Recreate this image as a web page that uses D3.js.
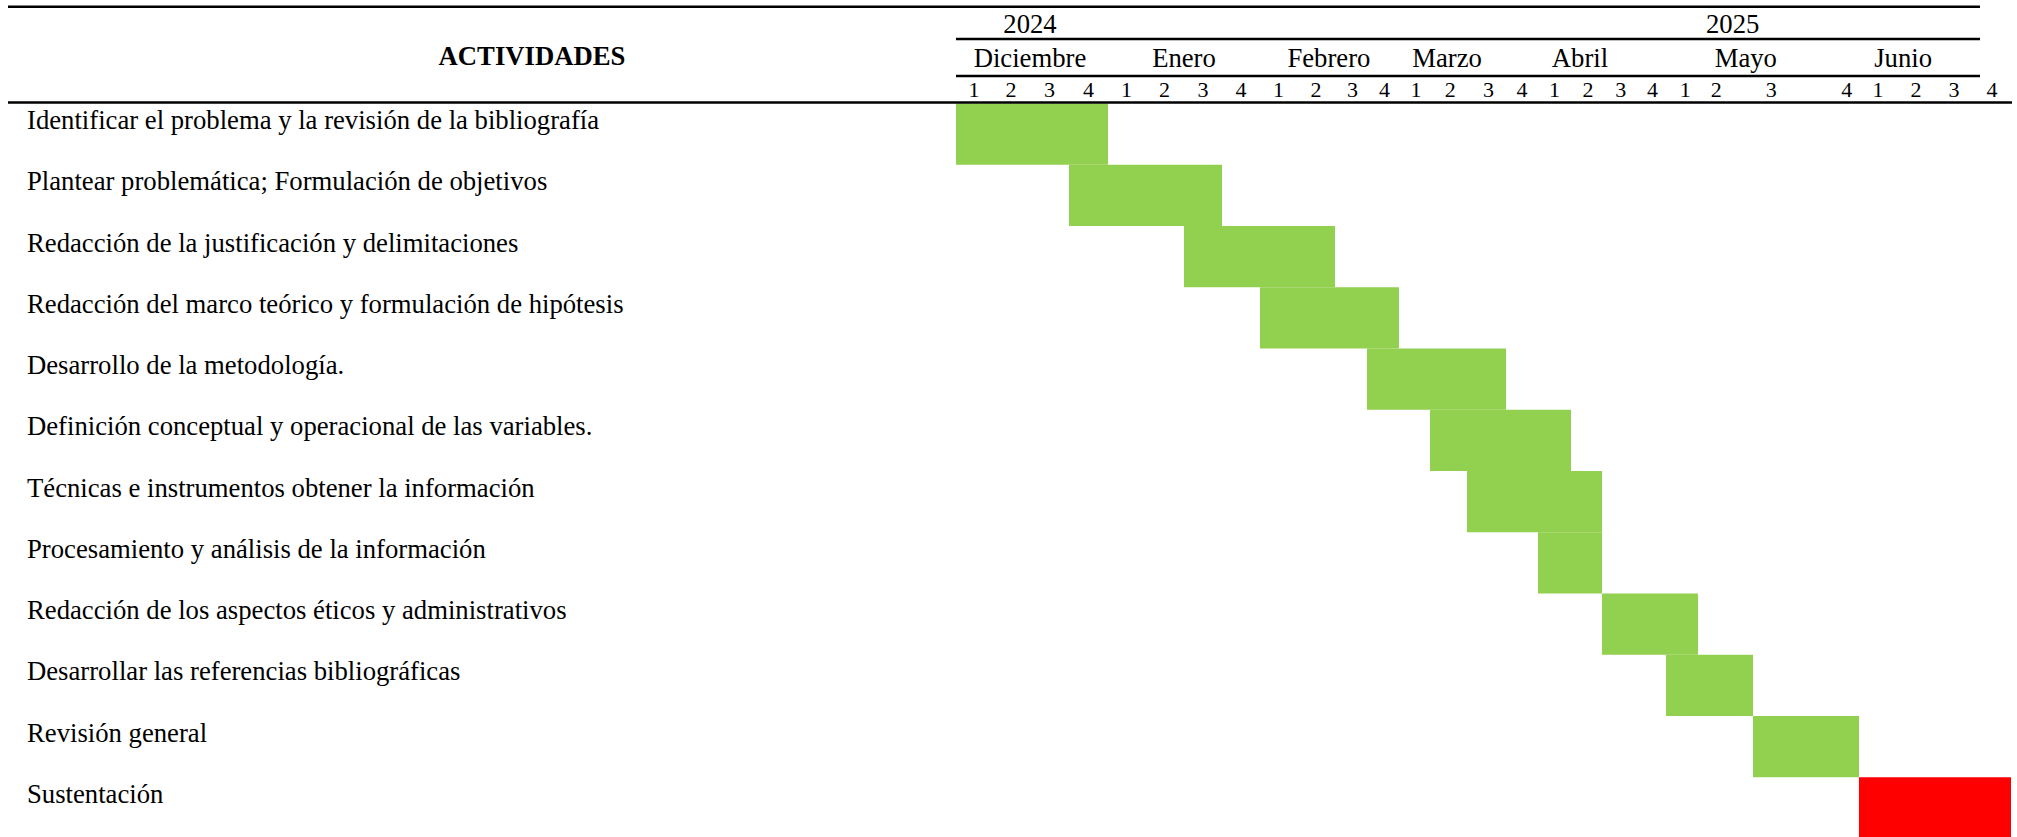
<!DOCTYPE html>
<html>
<head>
<meta charset="utf-8">
<script src="https://cdn.jsdelivr.net/npm/d3@7"></script>
<style>
  html, body { margin: 0; padding: 0; background: #fff; }
  text { font-family: "Liberation Serif", "Times New Roman", serif; fill: #000; }
</style>
</head>
<body>
<script>
(function() {

// chart data
var years = ["2024", "2025"];
var yearAt = [2, 21.63];                 // in week units
var months = ["Diciembre", "Enero", "Febrero", "Marzo", "Abril", "Mayo", "Junio"];
var monthAt = [2, 6, 9.84, 13.46, 17.29, 21.87, 25.16];
var weekLabels = ["1","2","3","4","1","2","3","4","1","2","3","4","1","2",
                  "3","4","1","2","3","4","1","2","3","4","1","2","3","4"];
var weekAt = [0.5, 1.5, 2.5, 3.5, 4.5, 5.5, 6.5, 7.5, 8.5, 9.5, 10.55, 11.55,
              12.55, 13.55, 14.55, 15.5, 16.5, 17.55, 18.55, 19.55, 20.6,
              21.33, 22.33, 23.76, 24.5, 25.5, 26.5, 27.5];
var activities = [
    "Identificar el problema y la revisión de la bibliografía",
    "Plantear problemática; Formulación de objetivos",
    "Redacción de la justificación y delimitaciones",
    "Redacción del marco teórico y formulación de hipótesis",
    "Desarrollo de la metodología.",
    "Definición conceptual y operacional de las variables.",
    "Técnicas e instrumentos obtener la información",
    "Procesamiento y análisis de la información",
    "Redacción de los aspectos éticos y administrativos",
    "Desarrollar las referencias bibliográficas",
    "Revisión general",
    "Sustentación"
];
var taskStart = [0, 3, 6, 8, 11, 13, 14, 16, 18, 20, 22, 24];
var taskEnd   = [4, 7, 10, 12, 15, 17, 18, 18, 21, 22, 24, 28];
var taskType  = ["trabajo","trabajo","trabajo","trabajo","trabajo","trabajo",
                 "trabajo","trabajo","trabajo","trabajo","trabajo","sustentacion"];

// layout
var width = 2017, height = 837;
// table column edges of the week grid (Word table, uneven widths)
var colEdges = [956, 992, 1030, 1069, 1108, 1145, 1184, 1222, 1260, 1297, 1335,
                1367, 1399, 1430, 1467, 1506, 1538, 1571, 1602, 1636, 1666,
                1698, 1753, 1808, 1859, 1897, 1935, 1973, 2011];
var headerBottom = 103.5;
var fontSize = "26.7px";

var svg = d3.select("body")
    .append("svg")
    .attr("width", width)
    .attr("height", height);

var x = d3.scaleLinear()
    .domain(d3.range(colEdges.length))
    .range(colEdges);

var y = d3.scaleBand()
    .domain(activities)
    .range([headerBottom, 838.5])
    .padding(0);

var color = d3.scaleOrdinal()
    .domain(["trabajo", "sustentacion"])
    .range(["#92D050", "#FF0000"]);

//bars
svg.append("g")
    .selectAll("rect")
    .data(activities)
    .join("rect")
    .attr("x", (d, i) => x(taskStart[i]))
    .attr("width", (d, i) => x(taskEnd[i]) - x(taskStart[i]))
    .attr("y", d => y(d))
    .attr("height", y.bandwidth())
    .attr("fill", (d, i) => color(taskType[i]));

//activity names
svg.append("g")
    .selectAll("text")
    .data(activities)
    .join("text")
    .attr("x", 27)
    .attr("y", d => y(d) + 25.5)
    .style("font-size", fontSize)
    .text(d => d);

//header
svg.append("text")
    .attr("x", 532)
    .attr("y", 65)
    .attr("text-anchor", "middle")
    .style("font-size", fontSize)
    .style("font-weight", "bold")
    .text("ACTIVIDADES");

svg.append("g")
    .selectAll("text")
    .data(years)
    .join("text")
    .attr("x", (d, i) => x(yearAt[i]))
    .attr("y", 33)
    .attr("text-anchor", "middle")
    .style("font-size", fontSize)
    .text(d => d);

svg.append("g")
    .selectAll("text")
    .data(months)
    .join("text")
    .attr("x", (d, i) => x(monthAt[i]))
    .attr("y", 67)
    .attr("text-anchor", "middle")
    .style("font-size", fontSize)
    .text(d => d);

svg.append("g")
    .selectAll("text")
    .data(weekLabels)
    .join("text")
    .attr("x", (d, i) => x(weekAt[i]))
    .attr("y", 97)
    .attr("text-anchor", "middle")
    .style("font-size", "22px")
    .text(d => d);

//rules
var rules = [
    {x1: 8, x2: 1980, y: 6.7},
    {x1: x(0), x2: 1980, y: 39},
    {x1: x(0), x2: 1980, y: 76},
    {x1: 8, x2: 2012, y: 102.5}
];
svg.append("g")
    .selectAll("line")
    .data(rules)
    .join("line")
    .attr("x1", d => d.x1)
    .attr("x2", d => d.x2)
    .attr("y1", d => d.y)
    .attr("y2", d => d.y)
    .attr("stroke", "#000")
    .attr("stroke-width", 2.5);

})();
</script>
</body>
</html>
